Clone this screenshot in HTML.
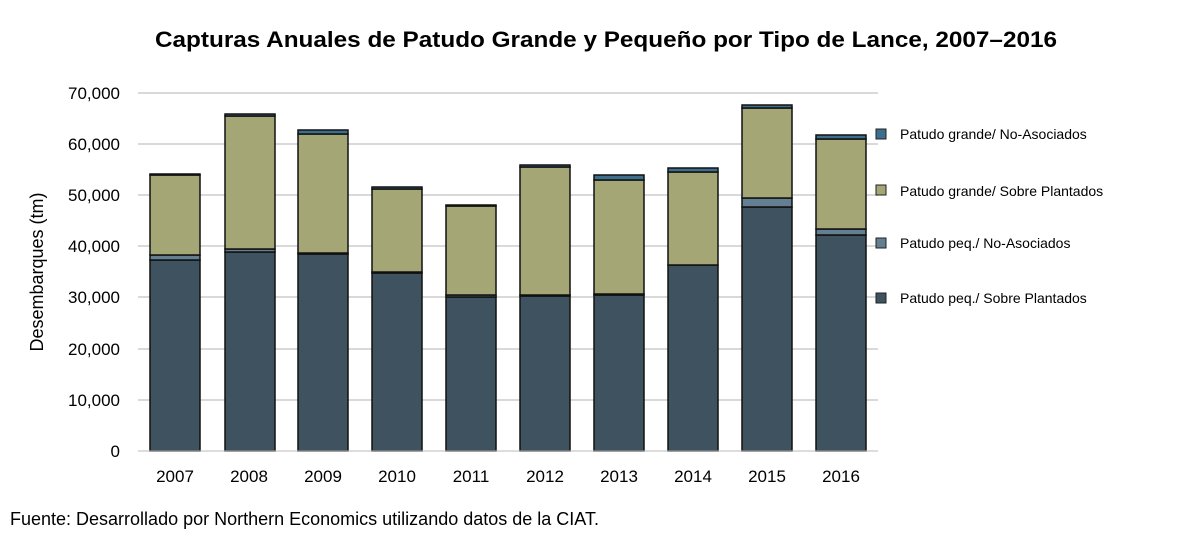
<!DOCTYPE html><html><head><meta charset="utf-8"><style>body{margin:0;background:#fff;}svg text{font-family:"Liberation Sans",sans-serif;}</style></head><body>
<svg width="1185" height="536" viewBox="0 0 1185 536" xmlns="http://www.w3.org/2000/svg">
<text x="606" y="47" text-anchor="middle" font-size="22" font-weight="bold" fill="#000" textLength="902" lengthAdjust="spacingAndGlyphs">Capturas Anuales de Patudo Grande y Pequeño por Tipo de Lance, 2007–2016</text>
<g stroke="#d9d9d9" stroke-width="2">
<line x1="138" x2="878" y1="93" y2="93"/><line x1="138" x2="878" y1="144" y2="144"/><line x1="138" x2="878" y1="195" y2="195"/><line x1="138" x2="878" y1="246" y2="246"/><line x1="138" x2="878" y1="297" y2="297"/><line x1="138" x2="878" y1="349" y2="349"/><line x1="138" x2="878" y1="400" y2="400"/>
</g>
<g font-size="17" fill="#000" text-anchor="end">
<text x="120" y="99">70,000</text><text x="120" y="150">60,000</text><text x="120" y="201">50,000</text><text x="120" y="252">40,000</text><text x="120" y="303">30,000</text><text x="120" y="355">20,000</text><text x="120" y="406">10,000</text><text x="120" y="457">0</text>
</g>
<text transform="translate(43,272) rotate(-90)" text-anchor="middle" font-size="18">Desembarques (tm)</text>
<g stroke="#111" stroke-width="1.5">
<rect x="150" y="260" width="50" height="191" fill="#3f5260"/><rect x="150" y="255" width="50" height="5" fill="#637f91"/><rect x="150" y="175" width="50" height="80" fill="#a4a676"/><rect x="150" y="174" width="50" height="1" fill="#3e6e8e"/>
<rect x="225" y="252" width="50" height="199" fill="#3f5260"/><rect x="225" y="249" width="50" height="3" fill="#637f91"/><rect x="225" y="116" width="50" height="133" fill="#a4a676"/><rect x="225" y="114" width="50" height="2" fill="#3e6e8e"/>
<rect x="298" y="254" width="50" height="197" fill="#3f5260"/><rect x="298" y="253" width="50" height="1" fill="#637f91"/><rect x="298" y="134" width="50" height="119" fill="#a4a676"/><rect x="298" y="130" width="50" height="4" fill="#3e6e8e"/>
<rect x="372" y="273" width="50" height="178" fill="#3f5260"/><rect x="372" y="272" width="50" height="1" fill="#637f91"/><rect x="372" y="189" width="50" height="83" fill="#a4a676"/><rect x="372" y="187" width="50" height="2" fill="#3e6e8e"/>
<rect x="446" y="297" width="50" height="154" fill="#3f5260"/><rect x="446" y="295" width="50" height="2" fill="#637f91"/><rect x="446" y="206" width="50" height="89" fill="#a4a676"/><rect x="446" y="205" width="50" height="1" fill="#3e6e8e"/>
<rect x="520" y="296" width="50" height="155" fill="#3f5260"/><rect x="520" y="295" width="50" height="1" fill="#637f91"/><rect x="520" y="167" width="50" height="128" fill="#a4a676"/><rect x="520" y="165" width="50" height="2" fill="#3e6e8e"/>
<rect x="594" y="295" width="50" height="156" fill="#3f5260"/><rect x="594" y="294" width="50" height="1" fill="#637f91"/><rect x="594" y="180" width="50" height="114" fill="#a4a676"/><rect x="594" y="175" width="50" height="5" fill="#3e6e8e"/>
<rect x="668" y="265" width="50" height="186" fill="#3f5260"/><rect x="668" y="172" width="50" height="93" fill="#a4a676"/><rect x="668" y="168" width="50" height="4" fill="#3e6e8e"/>
<rect x="742" y="207" width="50" height="244" fill="#3f5260"/><rect x="742" y="198" width="50" height="9" fill="#637f91"/><rect x="742" y="108" width="50" height="90" fill="#a4a676"/><rect x="742" y="105" width="50" height="3" fill="#3e6e8e"/>
<rect x="816" y="235" width="50" height="216" fill="#3f5260"/><rect x="816" y="229" width="50" height="6" fill="#637f91"/><rect x="816" y="139" width="50" height="90" fill="#a4a676"/><rect x="816" y="135" width="50" height="4" fill="#3e6e8e"/>
</g>
<line x1="138" x2="878" y1="451" y2="451" stroke="#bbb" stroke-width="1"/>
<g font-size="17" text-anchor="middle">
<text x="175" y="482">2007</text><text x="249" y="482">2008</text><text x="323" y="482">2009</text><text x="397" y="482">2010</text><text x="471" y="482">2011</text><text x="545" y="482">2012</text><text x="619" y="482">2013</text><text x="693" y="482">2014</text><text x="767" y="482">2015</text><text x="841" y="482">2016</text>
</g>
<g font-size="14" stroke="#222" stroke-width="1">
<rect x="876" y="129" width="10" height="10" fill="#3e6e8e"/><text x="900" y="139" stroke="none">Patudo grande/ No-Asociados</text>
<rect x="876" y="185" width="10" height="10" fill="#a4a676"/><text x="900" y="196" stroke="none">Patudo grande/ Sobre Plantados</text>
<rect x="876" y="238" width="10" height="10" fill="#637f91"/><text x="900" y="248" stroke="none">Patudo peq./ No-Asociados</text>
<rect x="876" y="293" width="10" height="10" fill="#3f5260"/><text x="900" y="303" stroke="none">Patudo peq./ Sobre Plantados</text>
</g>
<text x="10" y="525" font-size="18">Fuente: Desarrollado por Northern Economics utilizando datos de la CIAT.</text>
</svg></body></html>
